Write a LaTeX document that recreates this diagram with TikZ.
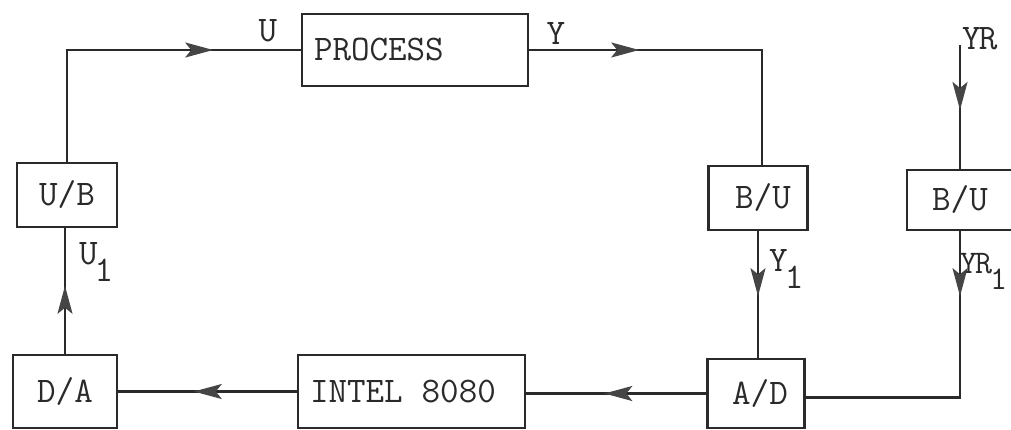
\documentclass[tikz,border=0pt]{standalone}
\usetikzlibrary{arrows.meta,decorations.markings}
\definecolor{ink}{HTML}{2A2A2A}
\definecolor{tipink}{HTML}{454545}
\tikzset{
  box/.style={draw=ink, line width=2.4pt, rectangle, inner sep=0pt, text=ink,
    font=\fontsize{36}{40}\selectfont\ttfamily},
  wire/.style={draw=ink, line width=2.2pt},
  lbl/.style={font=\fontsize{36}{40}\selectfont\ttfamily, inner sep=0pt, text=ink},
  midarrow/.style={postaction={decorate}, decoration={markings,
    mark=at position #1 with {\arrow[tipink]{Stealth[length=28pt,width=15pt,inset=6pt]}}}}
}
\begin{document}
\begin{tikzpicture}[x=1pt,y=-1pt]
\useasboundingbox (0,0) rectangle (1011,430);
% boxes
\node[box, minimum width=100pt, minimum height=64pt] (ub) at (67,195) {U/B};
\node[box, minimum width=226pt, minimum height=72pt, inner xsep=12pt,
      text width=202pt, align=left] (proc) at (415,50) {PROCESS};
\node[box, minimum width=99pt, minimum height=64pt] (bu1) at (758,198) {\hspace{10pt}B/U};
\node[box, minimum width=106pt, minimum height=60pt] (bu2) at (960,200) {B/U};
\node[box, minimum width=97pt, minimum height=69pt] (ad) at (756,393.5) {\hspace{8pt}A/D};
\node[box, minimum width=227pt, minimum height=73pt, inner xsep=12pt,
      text width=203pt, align=left] (intel) at (411.5,391.5) {INTEL\kern 19pt 8080};
\node[box, minimum width=104pt, minimum height=73pt] (da) at (65,391.5) {D/A};
\coordinate (yr) at (960,45);
% connectors
\draw[wire, midarrow=258pt] (ub.north) |- (proc.west);
\draw[wire, midarrow=110pt] (proc.east) -| ([xshift=4pt]bu1.north);
\draw[wire, midarrow=65pt] (yr) -- (bu2.north);
\draw[wire, midarrow=65pt] (bu1.south) -- (bu1.south |- ad.north);
\draw[wire, midarrow=65pt] (bu2.south) |- ([yshift=-4pt]ad.east);
\draw[wire, midarrow=102pt] (ad.west) -- (ad.west -| intel.east);
\draw[wire, midarrow=103pt] (intel.west) -- (intel.west -| da.east);
\draw[wire, midarrow=68pt] (da.north) -- (da.north |- ub.south);
% labels
\node[lbl, anchor=base] (lu) at (268,42) {U};
\node[lbl, anchor=base] (ly) at (556,45) {Y};
\node[lbl, anchor=base west] (lyr) at (962,50) {Y\kern-2pt R};
\node[lbl, anchor=base west] (lu1) at (79,265) {U\kern-3pt\raisebox{-17pt}{1}};
\node[lbl, anchor=base west] (ly1) at (769,272) {Y\kern-3pt\raisebox{-17pt}{1}};
\node[lbl, anchor=base west, font=\fontsize{33}{38}\selectfont\ttfamily] (lyr1) at (960,273)
  {Y\kern-2pt R\kern-2pt\raisebox{-16pt}{1}};
\end{tikzpicture}
\end{document}
